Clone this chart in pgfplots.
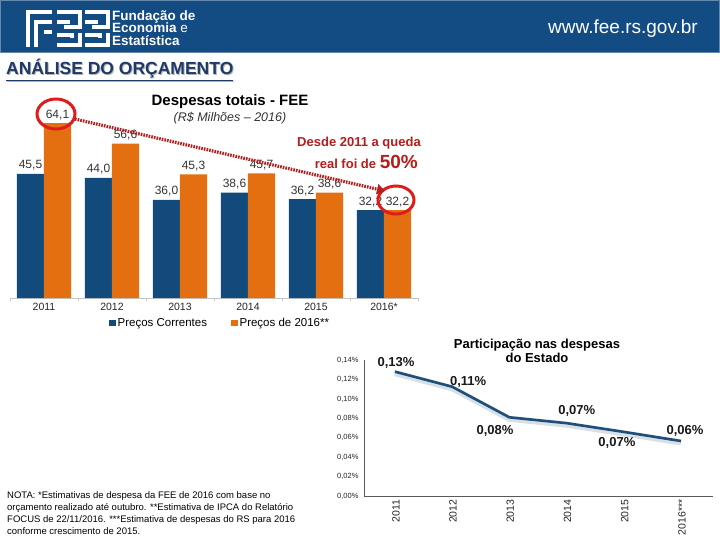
\documentclass[border=0pt]{standalone}
\usepackage{pgfplots}
\pgfplotsset{compat=1.18}
\usetikzlibrary{arrows.meta}
\usepackage{fontspec}
\setmainfont{Liberation Sans}
\definecolor{hdr}{HTML}{134B83}
\definecolor{barblue}{HTML}{124A7C}
\definecolor{barorange}{HTML}{E36F10}
\definecolor{linblue}{HTML}{1F4E79}
\definecolor{redc}{HTML}{E01B1B}
\definecolor{darkred}{HTML}{B81C1C}
\definecolor{titleblue}{HTML}{1F3A6A}
\newcommand{\fs}[1]{\fontsize{#1bp}{#1bp}\selectfont}
\begin{document}
\begin{tikzpicture}
\path[use as bounding box] (0,0) rectangle (720bp,-540bp);
\begin{scope}[x=1bp,y=-1bp]
\fill[white] (0,0) rectangle (720,540);
\fill[hdr] (0,0) rectangle (720,53);
\draw[hdr!65!white, line width=1.2bp] (0.6,0.6) rectangle (719.4,52.4);
% logo
\begin{scope}[white, line width=4.5bp, line cap=butt, line join=miter]
 \draw (28,47) -- (28,12) -- (52,12);
 \draw (36,47) -- (36,22) -- (52,22);
 \draw (44,32) -- (52,32);
 \draw (57,12) -- (80,12) -- (80,27) -- (64,27);
 \draw (57,22) -- (70,22);
 \draw (57,45) -- (80,45) -- (80,33);
 \draw (57,35) -- (72,35) -- (72,38);
 \draw (85,12) -- (108,12) -- (108,27) -- (92,27);
 \draw (85,22) -- (98,22);
 \draw (85,45) -- (108,45) -- (108,33);
 \draw (85,35) -- (100,35) -- (100,38);
\end{scope}
\node[anchor=west, white, font=\fs{13.5}\bfseries, align=left, inner sep=0] at (112,28) {Fundação de\\[-1bp]Economia {\mdseries e}\\[-1bp]Estatística};
\node[anchor=east, white, font=\fs{19}, inner sep=0] at (698,29) {www.fee.rs.gov.br};
\node[anchor=west, font=\fs{17.5}\bfseries, text=gray!60, inner sep=0] at (7,71) {\underline{ANÁLISE DO ORÇAMENTO}};
\node[anchor=west, font=\fs{17.5}\bfseries, text=titleblue, inner sep=0] at (6,70) {\underline{ANÁLISE DO ORÇAMENTO}};
% bar chart titles
\node[font=\fs{15}\bfseries] at (230,102) {Despesas totais - FEE};
\node[font=\fs{12.5}\itshape, text=black!80] at (230,118) {(R\$ Milhões – 2016)};
% line chart title
\node[font=\fs{13}\bfseries, align=center] at (537,351) {Participação nas despesas\\[1bp]do Estado};
% note
\node[anchor=north west, font=\fs{9.5}, align=left, inner sep=0] at (7,491) {NOTA: *Estimativas de despesa da FEE de 2016 com base no\\[2.6bp]orçamento realizado até outubro. **Estimativa de IPCA do Relatório\\[2.6bp]FOCUS de 22/11/2016. ***Estimativa de despesas do RS para 2016\\[2.6bp]conforme crescimento de 2015.};
\end{scope}

\begin{axis}[at={(10bp,-298bp)}, anchor=south west, scale only axis,
  width=408bp, height=191bp, xmin=-0.5, xmax=5.5, ymin=0, ymax=70,
  axis x line*=bottom, axis y line=none,
  x axis line style={gray!45, line width=0.8bp},
  xtick={0,1,2,3,4,5}, xticklabels={2011,2012,2013,2014,2015,2016*},
  major tick length=0,
  minor xtick={-0.5,0.5,1.5,2.5,3.5,4.5,5.5}, minor tick length=3bp,
  tick align=outside, minor tick style={gray!45, line width=0.8bp},
  xticklabel style={font=\fs{10.5}, text=black!85, yshift=-2bp},
  ybar=0pt, bar width=27bp, clip=false,
  nodes near coords,
  every node near coord/.append style={font=\fs{12}, text=black!80},
  /pgf/number format/fixed, /pgf/number format/fixed zerofill,
  /pgf/number format/precision=1, /pgf/number format/use comma,
  /pgf/number format/assume math mode=true,
  legend style={at={(0.515,-0.131)}, anchor=center, legend columns=2, draw=none,
    font=\fs{11.5}, inner sep=0pt,
    /tikz/every even column/.append style={column sep=22bp}},
  legend image code/.code={\fill[#1, draw=none] (0bp,-3bp) rectangle (6.5bp,3.5bp);},
]
\addplot[fill=barblue, draw=none] coordinates {(0,45.5) (1,44.0) (2,36.0) (3,38.6) (4,36.2) (5,32.2)};
\addplot[fill=barorange, draw=none] coordinates {(0,64.1) (1,56.6) (2,45.3) (3,45.7) (4,38.6) (5,32.2)};
\legend{Preços Correntes, Preços de 2016**}
\end{axis}

\begin{axis}[at={(364bp,-496bp)}, anchor=south west, scale only axis,
  width=349bp, height=136bp, xmin=-0.54, xmax=5.56, ymin=0, ymax=0.14,
  axis x line*=bottom, axis y line*=left,
  axis line style={black!65, line width=0.8bp},
  xtick={0,1,2,3,4,5}, xticklabels={2011,2012,2013,2014,2015,2016***},
  xticklabel style={rotate=90, anchor=east, font=\fs{10.5}, text=black!85, yshift=-1bp},
  ytick={0,0.02,0.04,0.06,0.08,0.1,0.12,0.14},
  yticklabels={{0,00\%},{0,02\%},{0,04\%},{0,06\%},{0,08\%},{0,10\%},{0,12\%},{0,14\%}},
  yticklabel style={font=\fs{7.5}, text=black!85, xshift=-2bp},
  major tick length=0, clip=false,
]
\addplot[color=linblue!25, line width=6bp, opacity=0.7, yshift=-1.5bp, forget plot] coordinates {(0,0.128) (1,0.1125) (2,0.081) (3,0.075) (4,0.066) (5,0.0566)};
\addplot[color=linblue, line width=2.6bp] coordinates {(0,0.128) (1,0.1125) (2,0.081) (3,0.075) (4,0.066) (5,0.0566)};
\begin{scope}[font=\fs{13}\bfseries, text=black!90]
\node at (axis cs:0.02,0.137) {0,13\%};
\node at (axis cs:1.28,0.117) {0,11\%};
\node at (axis cs:1.75,0.067) {0,08\%};
\node at (axis cs:3.18,0.0875) {0,07\%};
\node at (axis cs:3.88,0.0546) {0,07\%};
\node at (axis cs:5.07,0.067) {0,06\%};
\end{scope}
\end{axis}

\begin{scope}[x=1bp,y=-1bp]
\draw[redc, line width=3bp] (56,114) ellipse [x radius=19, y radius=15];
\draw[redc, line width=3bp] (396,200) ellipse [x radius=18, y radius=14];
\draw[darkred, line width=3.2bp, dash pattern=on 1.6bp off 1.1bp, -{Triangle[length=8bp,width=10bp]}] (75,119) -- (385,191);
\node[anchor=east, text=darkred, font=\fs{13}\bfseries, inner sep=0] at (421,143) {Desde 2011 a queda};
\node[anchor=base east, text=darkred, font=\fs{13}\bfseries, inner sep=0] at (418,168) {real foi de {\fs{19}50\%}};
\end{scope}
\end{tikzpicture}
\end{document}
